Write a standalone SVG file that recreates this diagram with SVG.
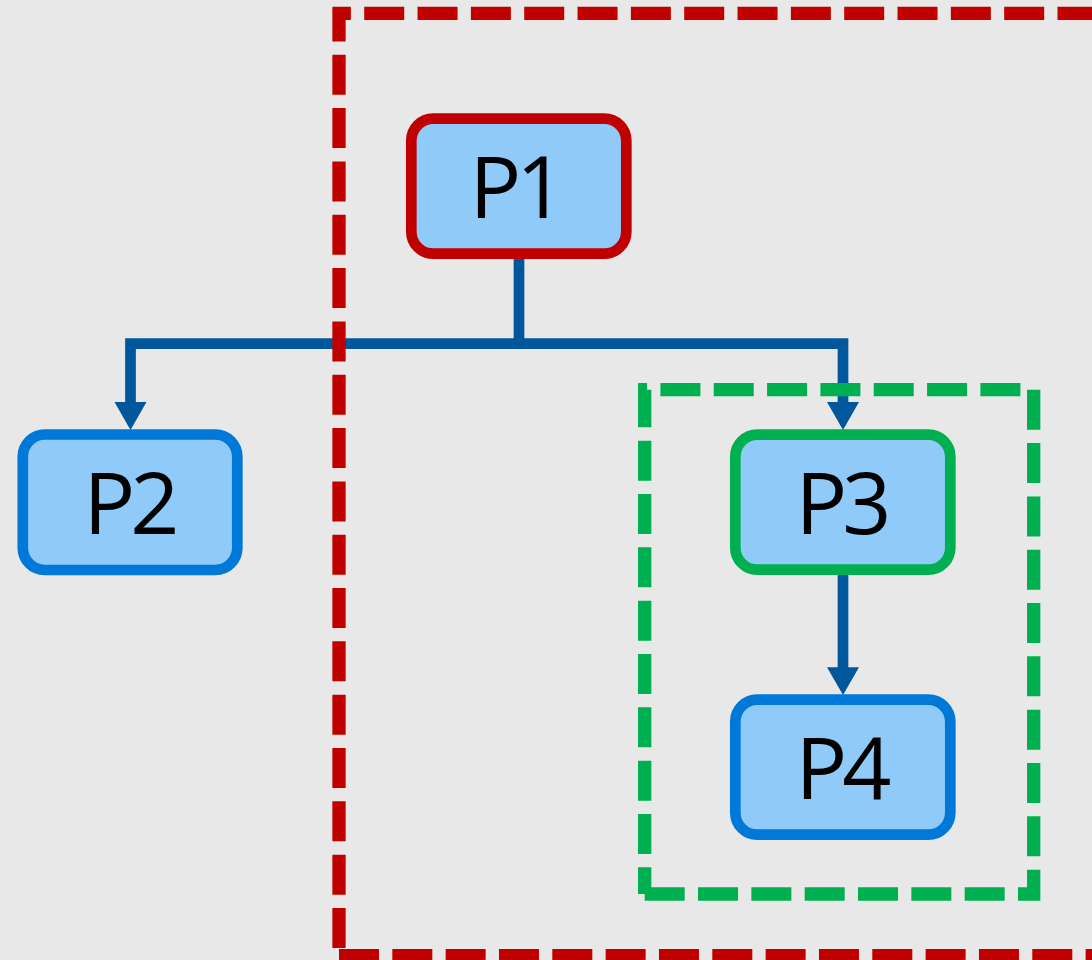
<svg xmlns="http://www.w3.org/2000/svg" width="1092" height="960" viewBox="0 0 1092 960">
<style>
.node rect{fill:#90CAF9;stroke-width:10.7}
.node text{font-family:"Open Sans","Noto Sans","Liberation Sans",sans-serif;font-size:86px;fill:#000;text-anchor:middle;letter-spacing:-5px}
.blue rect{stroke:#0078D7}
.conn path{fill:none;stroke:#01579B;stroke-width:10.7;stroke-linejoin:miter}
.conn polygon{fill:#01579B}
.group{fill:none;stroke-width:13.3;stroke-dasharray:40 13.33;stroke-linecap:butt;stroke-linejoin:miter}
</style>
<rect x="0" y="0" width="1092" height="960" fill="#E8E8E8"/>
<g id="connectors" class="conn">
<path d="M519,259 V343.7"/>
<path d="M130.5,403 V343.7 H843 V403"/>
<polygon points="114.5,402 146.5,402 130.5,430"/>
<polygon points="827,402 859,402 843,430"/>
<path d="M843,575 V668"/>
<polygon points="827,667.3 859,667.3 843,695"/>
</g>
<g id="P1" class="node"><rect x="411.3" y="118.7" width="215" height="135" rx="22" stroke="#C00000"/><text x="515" y="218.3">P1</text></g>
<g id="P2" class="node blue"><rect x="22.8" y="434.5" width="214.5" height="135.5" rx="22"/><text x="129" y="534">P2</text></g>
<g id="P3" class="node"><rect x="735.3" y="434.7" width="215" height="135" rx="22" stroke="#00B050"/><text x="841" y="534.3">P3</text></g>
<g id="P4" class="node blue"><rect x="735.3" y="699.7" width="215" height="135" rx="22"/><text x="841" y="799.3">P4</text></g>
<g id="group-red"><path class="group" stroke="#C00000" d="M339,955.7 H1127 V13.3 H339 L339,955.7"/></g>
<g id="group-green"><path class="group" stroke="#00B050" d="M644.7,894 H1033.7 V389.7 H644.7 L644.7,894"/></g>
</svg>
